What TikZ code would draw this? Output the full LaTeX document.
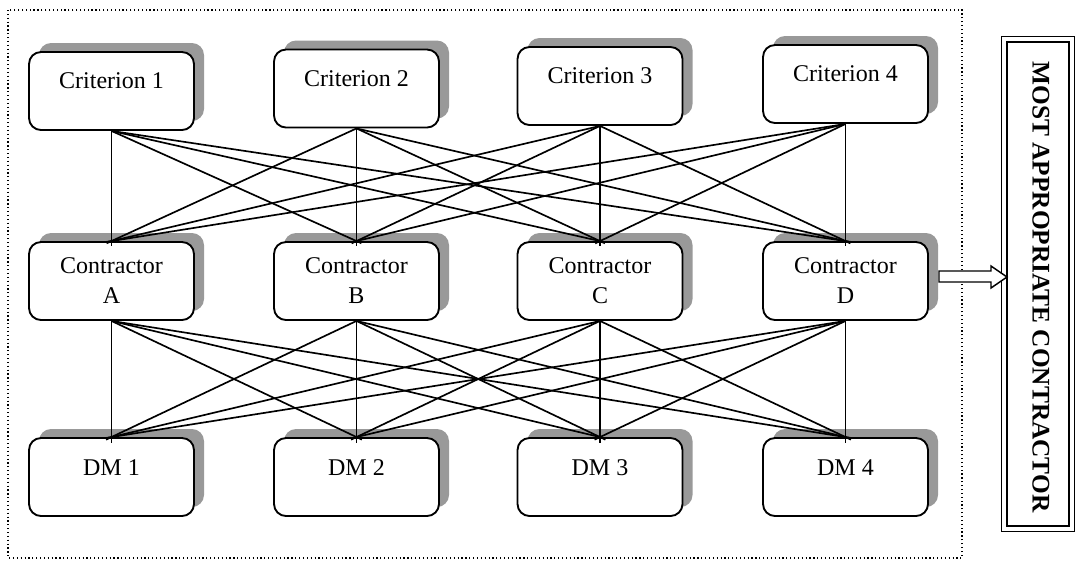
\documentclass[tikz,border=0pt]{standalone}
\usepackage{fontspec}
\setmainfont{Liberation Serif}
\usetikzlibrary{calc,shadows}
\begin{document}
\begin{tikzpicture}[x=0.75pt,y=-0.75pt,
  box/.style={draw=black, line width=1.4pt, rounded corners=9pt, fill=white,
    minimum width=123.75pt, minimum height=58.5pt, inner sep=0pt, align=center,
    font=\fontsize{18}{22.5}\selectfont,
    drop shadow={shadow xshift=7.5pt, shadow yshift=6.75pt, fill=black!40, opacity=1}},
  lbl/.style={font=\fontsize{18}{22.5}\selectfont, inner sep=0pt},
  link/.style={line width=1.25pt},
]
\useasboundingbox (0,0) rectangle (1076,562);

% dotted frame around the network
\draw[dotted, line width=0.9pt] (8,10) rectangle (962,558);

% criteria row
\foreach \n/\x/\dy in {1/111.5/0, 2/356.5/-2.5, 3/600/-5, 4/845.5/-7}{
  \node[box] (cr\n) at (\x,91+\dy) {};
  \node[lbl] (crt\n) at ($(cr\n.center)+(0,-10)$) {Criterion \n};
}

% contractors row
\foreach \n/\x/\l in {1/111.5/A, 2/356.5/B, 3/600/C, 4/845.5/D}{
  \node[box] (ct\n) at (\x,281) {Contractor\\\l};
}

% decision makers row
\foreach \n/\x in {1/111.5, 2/356.5, 3/600, 4/845.5}{
  \node[box] (dm\n) at (\x,477) {};
  \node[lbl] (dmt\n) at ($(dm\n.center)+(0,-9)$) {DM \n};
}

% every criterion to every contractor, every contractor to every DM
\foreach \i in {1,...,4}{
  \foreach \j in {1,...,4}{
    \draw[link, shorten >=-4pt] (cr\i.south) -- (ct\j.north);
    \draw[link, shorten >=-4.5pt] (ct\i.south) -- (dm\j.north);
  }
}

% result box
\node[draw=black, line width=2pt, minimum width=46.5pt, minimum height=363pt, inner sep=0pt]
  (res) at (1038,284) {};
\draw[line width=0.8pt] ($(res.north west)+(-4,-4)$) rectangle ($(res.south east)+(4,4)$);
\node[rotate=-90, font=\bfseries\fontsize{19}{22}\selectfont, inner sep=0pt]
  (restxt) at ($(res.center)+(3,3)$) {MOST APPROPRIATE CONTRACTOR};

% block arrow towards the result
\draw[line width=1.1pt, fill=white, line join=miter]
  (939,271) -- (991,271) -- (991,266) -- (1007,277) -- (991,288) -- (991,282) -- (939,282) -- cycle;
\end{tikzpicture}
\end{document}
